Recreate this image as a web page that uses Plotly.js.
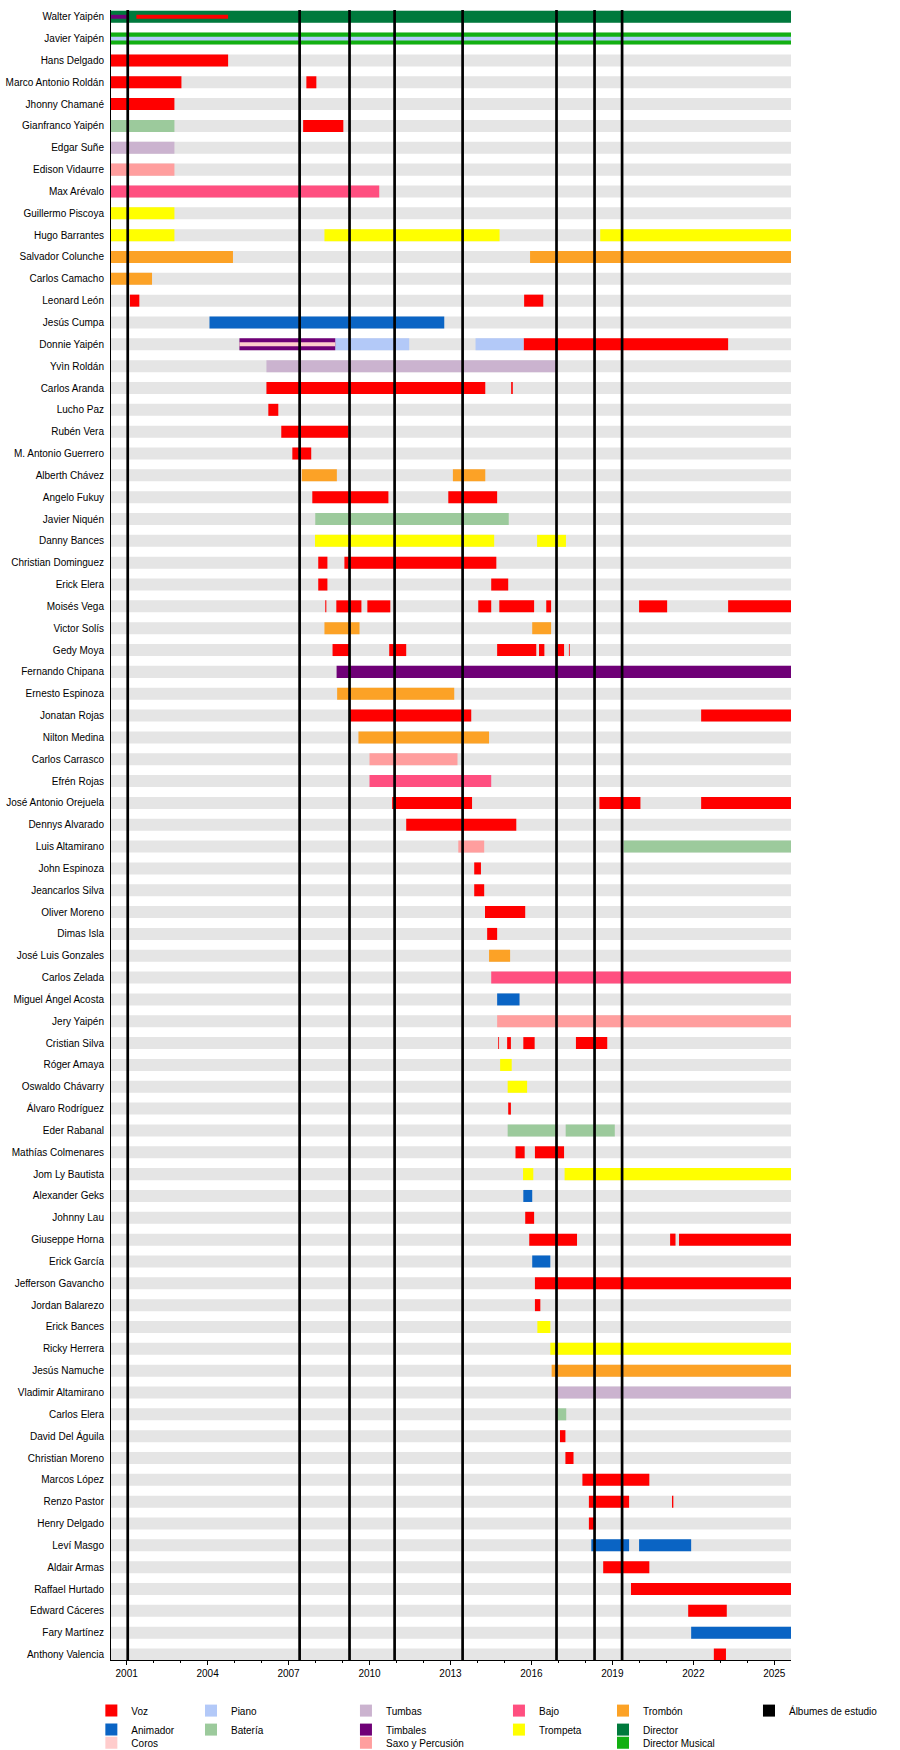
<!DOCTYPE html>
<html>
<head>
<meta charset="utf-8">
<script src="https://cdn.plot.ly/plotly-3.0.1.min.js"></script>
<style>body{margin:0;background:#fff}#chart{width:900px;height:1750px}</style>
</head>
<body>
<div id="chart"></div>
<script>
// ---------- DATA ----------
const START = 2000.42;
const NOW = 2025.62;

const members = [
  "Walter Yaipén","Javier Yaipén","Hans Delgado","Marco Antonio Roldán","Jhonny Chamané",
  "Gianfranco Yaipén","Edgar Suñe","Edison Vidaurre","Max Arévalo","Guillermo Piscoya",
  "Hugo Barrantes","Salvador Colunche","Carlos Camacho","Leonard León","Jesús Cumpa",
  "Donnie Yaipén","Yvìn Roldán","Carlos Aranda","Lucho Paz","Rubén Vera",
  "M. Antonio Guerrero","Alberth Chávez","Angelo Fukuy","Javier Niquén","Danny Bances",
  "Christian Dominguez","Erick Elera","Moisés Vega","Victor Solís","Gedy Moya",
  "Fernando Chipana","Ernesto Espinoza","Jonatan Rojas","Nilton Medina","Carlos Carrasco",
  "Efrén Rojas","José Antonio Orejuela","Dennys Alvarado","Luis Altamirano","John Espinoza",
  "Jeancarlos Silva","Oliver Moreno","Dimas Isla","José Luis Gonzales","Carlos Zelada",
  "Miguel Ángel Acosta","Jery Yaipén","Cristian Silva","Róger Amaya","Oswaldo Chávarry",
  "Álvaro Rodríguez","Eder Rabanal","Mathías Colmenares","Jom Ly Bautista","Alexander Geks",
  "Johnny Lau","Giuseppe Horna","Erick García","Jefferson Gavancho","Jordan Balarezo",
  "Erick Bances","Ricky Herrera","Jesús Namuche","Vladimir Altamirano","Carlos Elera",
  "David Del Águila","Christian Moreno","Marcos López","Renzo Pastor","Henry Delgado",
  "Leví Masgo","Aldair Armas","Raffael Hurtado","Edward Cáceres","Fary Martínez",
  "Anthony Valencia"
];

const tickYears = [2001, 2004, 2007, 2010, 2013, 2016, 2019, 2022, 2025];
const albums = [2001.04, 2007.41, 2009.26, 2010.93, 2013.45, 2016.93, 2018.34, 2019.36];

// main roles: [member, start, end]
const director = [["Walter Yaipén", START, NOW]];
const directorMusical = [["Javier Yaipén", START, NOW]];
const voz = [
  ["Hans Delgado", START, 2004.76],
  ["Marco Antonio Roldán", START, 2003.03], ["Marco Antonio Roldán", 2007.66, 2008.03],
  ["Jhonny Chamané", START, 2002.77],
  ["Gianfranco Yaipén", 2007.54, 2009.03],
  ["Leonard León", 2001.12, 2001.47], ["Leonard León", 2015.73, 2016.44],
  ["Donnie Yaipén", 2015.71, 2023.29],
  ["Carlos Aranda", 2006.18, 2014.29], ["Carlos Aranda", 2015.25, 2015.31],
  ["Lucho Paz", 2006.25, 2006.62],
  ["Rubén Vera", 2006.73, 2009.22],
  ["M. Antonio Guerrero", 2007.14, 2007.84],
  ["Angelo Fukuy", 2007.88, 2010.70], ["Angelo Fukuy", 2012.92, 2014.73],
  ["Christian Dominguez", 2008.10, 2008.44], ["Christian Dominguez", 2009.07, 2014.70],
  ["Erick Elera", 2008.10, 2008.44], ["Erick Elera", 2014.51, 2015.14],
  ["Moisés Vega", 2008.36, 2008.40], ["Moisés Vega", 2008.77, 2009.70], ["Moisés Vega", 2009.92, 2010.77],
  ["Moisés Vega", 2014.03, 2014.51], ["Moisés Vega", 2014.81, 2016.10], ["Moisés Vega", 2016.55, 2016.73],
  ["Moisés Vega", 2019.99, 2021.03], ["Moisés Vega", 2023.29, NOW],
  ["Gedy Moya", 2008.63, 2009.26], ["Gedy Moya", 2010.73, 2011.36], ["Gedy Moya", 2014.73, 2016.18],
  ["Gedy Moya", 2016.28, 2016.48], ["Gedy Moya", 2016.89, 2017.21], ["Gedy Moya", 2017.39, 2017.42],
  ["Jonatan Rojas", 2009.26, 2013.77], ["Jonatan Rojas", 2022.29, NOW],
  ["José Antonio Orejuela", 2010.84, 2013.80], ["José Antonio Orejuela", 2018.52, 2020.04],
  ["José Antonio Orejuela", 2022.29, NOW],
  ["Dennys Alvarado", 2011.36, 2015.44],
  ["John Espinoza", 2013.88, 2014.13],
  ["Jeancarlos Silva", 2013.88, 2014.25],
  ["Oliver Moreno", 2014.28, 2015.77],
  ["Dimas Isla", 2014.36, 2014.73],
  ["Cristian Silva", 2014.77, 2014.80], ["Cristian Silva", 2015.10, 2015.24],
  ["Cristian Silva", 2015.70, 2016.12], ["Cristian Silva", 2017.65, 2018.81],
  ["Álvaro Rodríguez", 2015.14, 2015.24],
  ["Mathías Colmenares", 2015.41, 2015.75], ["Mathías Colmenares", 2016.13, 2017.21],
  ["Johnny Lau", 2015.77, 2016.10],
  ["Giuseppe Horna", 2015.92, 2017.69], ["Giuseppe Horna", 2021.14, 2021.34], ["Giuseppe Horna", 2021.47, NOW],
  ["Jefferson Gavancho", 2016.13, NOW],
  ["Jordan Balarezo", 2016.13, 2016.33],
  ["David Del Águila", 2017.06, 2017.26],
  ["Christian Moreno", 2017.26, 2017.56],
  ["Marcos López", 2017.89, 2020.37],
  ["Renzo Pastor", 2018.13, 2019.62], ["Renzo Pastor", 2021.21, 2021.26],
  ["Henry Delgado", 2018.13, 2018.38],
  ["Aldair Armas", 2018.66, 2020.37],
  ["Raffael Hurtado", 2019.69, NOW],
  ["Edward Cáceres", 2021.81, 2023.24],
  ["Anthony Valencia", 2022.76, 2023.21]
];
const animador = [
  ["Jesús Cumpa", 2004.07, 2012.77],
  ["Miguel Ángel Acosta", 2014.73, 2015.56],
  ["Alexander Geks", 2015.70, 2016.03],
  ["Erick García", 2016.03, 2016.70],
  ["Leví Masgo", 2018.22, 2019.62], ["Leví Masgo", 2019.99, 2021.92],
  ["Fary Martínez", 2021.92, NOW]
];
const coros = [];
const piano = [
  ["Donnie Yaipén", 2008.73, 2011.47], ["Donnie Yaipén", 2013.93, 2015.71]
];
const bateria = [
  ["Gianfranco Yaipén", START, 2002.77],
  ["Javier Niquén", 2007.99, 2015.16],
  ["Luis Altamirano", 2019.42, NOW],
  ["Eder Rabanal", 2015.12, 2016.96], ["Eder Rabanal", 2017.27, 2019.09],
  ["Carlos Elera", 2016.91, 2017.29]
];
const tumbas = [
  ["Edgar Suñe", START, 2002.77],
  ["Yvìn Roldán", 2006.18, 2016.91],
  ["Vladimir Altamirano", 2016.91, NOW]
];
const timbales = [
  ["Donnie Yaipén", 2005.18, 2008.73],
  ["Fernando Chipana", 2008.78, NOW]
];
const saxo = [
  ["Edison Vidaurre", START, 2002.77],
  ["Carlos Carrasco", 2010.00, 2013.26],
  ["Luis Altamirano", 2013.29, 2014.25],
  ["Jery Yaipén", 2014.73, NOW]
];
const bajo = [
  ["Max Arévalo", START, 2010.36],
  ["Efrén Rojas", 2010.00, 2014.51],
  ["Carlos Zelada", 2014.51, NOW]
];
const trompeta = [
  ["Guillermo Piscoya", START, 2002.77],
  ["Hugo Barrantes", START, 2002.77], ["Hugo Barrantes", 2008.33, 2014.82], ["Hugo Barrantes", 2018.55, NOW],
  ["Danny Bances", 2007.98, 2014.62], ["Danny Bances", 2016.21, 2017.28],
  ["Róger Amaya", 2014.84, 2015.27],
  ["Oswaldo Chávarry", 2015.12, 2015.84],
  ["Jom Ly Bautista", 2015.69, 2016.07], ["Jom Ly Bautista", 2017.23, NOW],
  ["Erick Bances", 2016.22, 2016.70],
  ["Ricky Herrera", 2016.70, NOW]
];
const trombon = [
  ["Salvador Colunche", START, 2004.94], ["Salvador Colunche", 2015.95, NOW],
  ["Carlos Camacho", START, 2001.94],
  ["Alberth Chávez", 2007.49, 2008.79], ["Alberth Chávez", 2013.09, 2014.29],
  ["Victor Solís", 2008.33, 2009.63], ["Victor Solís", 2016.03, 2016.73],
  ["Ernesto Espinoza", 2008.80, 2013.14],
  ["Nilton Medina", 2009.59, 2014.43],
  ["José Luis Gonzales", 2014.43, 2015.21],
  ["Jesús Namuche", 2016.75, NOW]
];

// secondary roles (drawn as thin inner bars)
const vozSecundaria = [["Walter Yaipén", 2001.36, 2004.76]];
const timbalesSecundario = [["Walter Yaipén", START, 2001.02]];
const pianoSecundario = [["Javier Yaipén", START, NOW]];
const corosSecundario = [["Donnie Yaipén", 2005.18, 2008.73]];

// ---------- STYLE ----------
const FONT = "Liberation Sans, Arial, sans-serif";
const MAIN_W = 0.55, THIN_W = 0.18;
const Y_TOP = -0.31, Y_BOTTOM = members.length - 1 + 0.25;

function roleTrace(name, color, main, secondary, legendId, rank) {
  const all = main.map(d => [d, MAIN_W]).concat(secondary.map(d => [d, THIN_W]));
  return {
    type: 'bar', orientation: 'h', name: name,
    y: all.map(a => members.indexOf(a[0][0])),
    base: all.map(a => a[0][1]),
    x: all.map(a => a[0][2] - a[0][1]),
    width: all.map(a => a[1]),
    marker: {color: color, line: {width: 0}},
    legend: legendId, legendrank: rank, hoverinfo: 'skip'
  };
}

const traces = [
  {
    type: 'bar', orientation: 'h', name: 'fondo', showlegend: false,
    y: members.map((m, i) => i), base: members.map(() => START),
    x: members.map(() => NOW - START), width: MAIN_W,
    marker: {color: '#e5e5e5', line: {width: 0}}, hoverinfo: 'skip'
  },
  roleTrace('Director', '#007a3d', director, [], 'legend5', 2),
  roleTrace('Director Musical', '#12b012', directorMusical, [], 'legend9', 1),
  roleTrace('Voz', '#ff0000', voz, vozSecundaria, 'legend', 1),
  roleTrace('Animador', '#0a64c4', animador, [], 'legend', 2),
  roleTrace('Piano', '#b3c9f8', piano, pianoSecundario, 'legend2', 1),
  roleTrace('Batería', '#9cca9c', bateria, [], 'legend2', 2),
  roleTrace('Tumbas', '#cbb3cf', tumbas, [], 'legend3', 1),
  roleTrace('Timbales', '#6f0077', timbales, timbalesSecundario, 'legend3', 2),
  roleTrace('Saxo y Percusión', '#ff9e9e', saxo, [], 'legend8', 1),
  roleTrace('Bajo', '#ff4f80', bajo, [], 'legend4', 1),
  roleTrace('Trompeta', '#ffff00', trompeta, [], 'legend4', 2),
  roleTrace('Trombón', '#fca226', trombon, [], 'legend5', 1),
  roleTrace('Coros', '#ffcccc', coros, corosSecundario, 'legend7', 1),
  {
    type: 'bar', orientation: 'v', name: 'Álbumes de estudio',
    x: albums, base: albums.map(() => Y_TOP), y: albums.map(() => Y_BOTTOM - Y_TOP),
    width: 0.1, marker: {color: '#000000', line: {width: 0}},
    legend: 'legend6', hoverinfo: 'skip'
  }
];

function leg(x, y) {
  return {x: x, y: y, xref: 'container', yref: 'container',
    xanchor: 'left', yanchor: 'top', orientation: 'v',
    bgcolor: 'rgba(0,0,0,0)', borderwidth: 0, font: {family: FONT, size: 10, color: '#000'},
    traceorder: 'normal', itemclick: false, itemdoubleclick: false};
}
const ROW1 = 0.0308, ROW3 = 0.0124;

const layout = {
  width: 900, height: 1750,
  margin: {l: 111, r: 109, t: 10, b: 90, pad: 0, autoexpand: false},
  paper_bgcolor: '#ffffff', plot_bgcolor: '#ffffff',
  font: {family: FONT, size: 10, color: '#000'},
  barmode: 'overlay',
  showlegend: true,
  xaxis: {
    range: [START, NOW], autorange: false,
    tickmode: 'array', tickvals: tickYears, ticktext: tickYears.map(String),
    ticks: 'outside', ticklen: 4, tickwidth: 1, tickcolor: '#000',
    minor: {dtick: 1, tick0: 2001, ticks: 'outside', ticklen: 2, tickcolor: '#000', showgrid: false},
    showline: true, linecolor: '#000', linewidth: 1, mirror: false,
    showgrid: false, zeroline: false,
    tickfont: {family: FONT, size: 10, color: '#000'}
  },
  yaxis: {
    range: [Y_BOTTOM, Y_TOP], autorange: false,
    tickmode: 'array', tickvals: members.map((m, i) => i), ticktext: members,
    ticks: '', ticklabelstandoff: 4,
    showline: true, linecolor: '#000', linewidth: 1,
    showgrid: false, zeroline: false,
    tickfont: {family: FONT, size: 10, color: '#000'}
  },
  legend: leg(0.1015, ROW1),
  legend2: leg(0.2122, ROW1),
  legend3: leg(0.3844, ROW1),
  legend4: leg(0.5544, ROW1),
  legend5: leg(0.670, ROW1),
  legend6: leg(0.8322, ROW1),
  legend7: leg(0.1015, ROW3),
  legend8: leg(0.3844, ROW3),
  legend9: leg(0.670, ROW3)
};

Plotly.newPlot('chart', traces, layout, {staticPlot: true, displayModeBar: false});
</script>
</body>
</html>
